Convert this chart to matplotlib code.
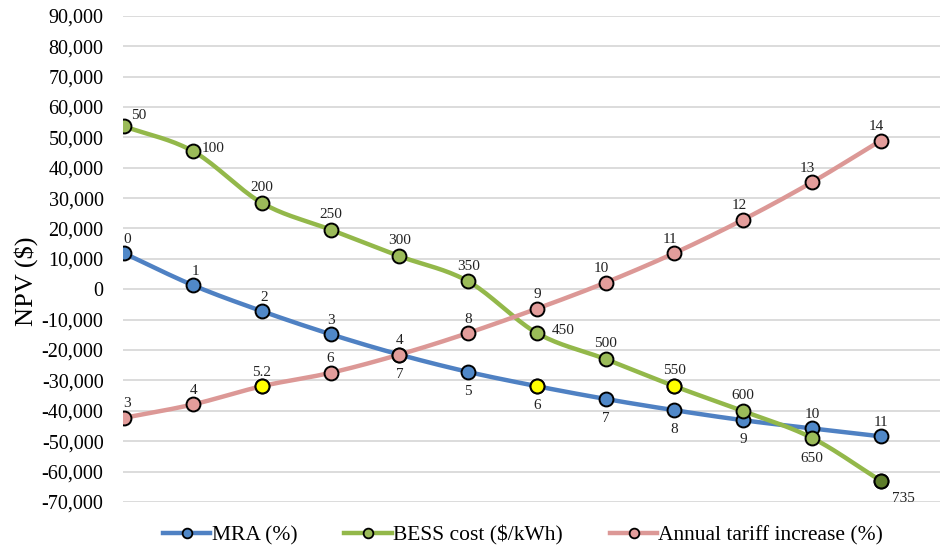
import matplotlib.pyplot as plt
import numpy as np
from matplotlib.ticker import FuncFormatter

positions = list(range(12))

mra_npv = [11800, 1300, -7200, -14800, -21500, -27200, -31900, -36100, -39800, -43100, -45800, -48400]
mra_labels = ["0", "1", "2", "3", "4", "5", "6", "7", "8", "9", "10", "11"]

bess_npv = [53600, 45400, 28400, 19600, 10900, 2600, -14400, -23000, -31900, -40100, -48900, -63000]
bess_labels = ["50", "100", "200", "250", "300", "350", "450", "500", "550", "600", "650", "735"]

tariff_npv = [-42300, -37900, -31900, -27500, -21500, -14400, -6400, 2200, 11900, 22900, 35200, 48900]
tariff_labels = ["3", "4", "5.2", "6", "7", "8", "9", "10", "11", "12", "13", "14"]


def smooth(x, y, n=20):
    # catmull-rom style curve through every point, like a smoothed office line
    x = np.asarray(x, float)
    y = np.asarray(y, float)
    px = np.concatenate([[2 * x[0] - x[1]], x, [2 * x[-1] - x[-2]]])
    py = np.concatenate([[2 * y[0] - y[1]], y, [2 * y[-1] - y[-2]]])
    xs, ys = [], []
    t = np.linspace(0, 1, n)
    for i in range(1, len(px) - 2):
        for p, out in ((px, xs), (py, ys)):
            p0, p1, p2, p3 = p[i - 1], p[i], p[i + 1], p[i + 2]
            c1 = p1 + (p2 - p0) / 6
            c2 = p2 - (p3 - p1) / 6
            out.extend((1 - t) ** 3 * p1 + 3 * (1 - t) ** 2 * t * c1 + 3 * (1 - t) * t ** 2 * c2 + t ** 3 * p2)
    return xs, ys


plt.rcParams['font.family'] = ['Liberation Serif', 'DejaVu Serif']

fig = plt.figure(figsize=(9.42, 5.45), dpi=100)
ax = fig.add_axes([0.1306, 0.079, 0.867, 0.892])

blue, green, pink = '#4f81c3', '#93b84a', '#dc9896'
blue_fill, green_fill, pink_fill = '#5088c8', '#9bbb59', '#e39d9b'

series = [
    (mra_npv, blue, blue_fill, 'MRA (%)'),
    (bess_npv, green, green_fill, 'BESS cost ($/kWh)'),
    (tariff_npv, pink, pink_fill, 'Annual tariff increase (%)'),
]

handles = []
for vals, lc, fc, name in series:
    sx, sy = smooth(positions, vals)
    ax.plot(sx, sy, color=lc, lw=3.2, zorder=2, solid_capstyle='round')
    ax.plot(positions, vals, ls='none', marker='o', ms=10, mfc=fc, mec='black', mew=1.4, zorder=3)
    h, = ax.plot([], [], color=lc, lw=3.2, marker='o', ms=7, mfc=fc, mec='black', mew=1.3, label=name)
    handles.append(h)

# highlighted points
ax.plot(positions[6], mra_npv[6], 'o', ms=10, mfc='#ffff00', mec='black', mew=1.4, zorder=4)
ax.plot(positions[8], bess_npv[8], 'o', ms=10, mfc='#ffff00', mec='black', mew=1.4, zorder=4)
ax.plot(positions[2], tariff_npv[2], 'o', ms=10, mfc='#ffff00', mec='black', mew=1.4, zorder=4)
ax.plot(positions[11], bess_npv[11], 'o', ms=10, mfc='#5e7d2b', mec='black', mew=1.4, zorder=4)

lab = dict(fontsize=11, color='#222222', zorder=5)

# MRA labels: above at the ends, below in the middle
mra_off = [(2, 10), (2, 10), (2, 10), (0, 10), (0, 10), (0, -14), (0, -14), (0, -14), (0, -14), (0, -14), (0, 10), (0, 10)]
for x, y, s, (dx, dy) in zip(positions, mra_npv, mra_labels, mra_off):
    ax.annotate(s, (x, y), xytext=(dx, dy), textcoords='offset points', ha='center', va='center', **lab)

bess_off = [(11, 8), (12, 2), (0, 11), (0, 11), (0, 11), (0, 11), (17, 2), (0, 11), (0, 11), (0, 11), (0, -15), (14, -13)]
for x, y, s, (dx, dy) in zip(positions, bess_npv, bess_labels, bess_off):
    ha = 'left' if dx > 2 else 'center'
    ax.annotate(s, (x, y), xytext=(dx if ha == 'center' else dx - 6, dy), textcoords='offset points',
                ha=ha, va='center', **lab)

tariff_off = [(2, 10), (0, 10), (0, 10), (0, 10), (0, -14), (0, 10), (0, 10), (0, 10), (0, 10), (0, 10), (0, 10), (0, 10)]
for x, y, s, (dx, dy) in zip(positions, tariff_npv, tariff_labels, tariff_off):
    ax.annotate(s, (x, y), xytext=(dx - 3 if dy > 0 and x >= 7 else dx, dy), textcoords='offset points',
                ha='center', va='center', **lab)

ax.set_xlim(-0.02, 11.86)
ax.set_ylim(-70000, 90000)
ax.set_yticks(np.arange(-70000, 90001, 10000))
ax.yaxis.set_major_formatter(FuncFormatter(lambda v, p: f"{int(v):,}"))
ax.set_xticks([])
ax.grid(axis='y', color='#d9d9d9', lw=1.3)
ax.set_axisbelow(True)
for sp in ax.spines.values():
    sp.set_visible(False)
ax.tick_params(axis='y', length=0, labelsize=14.5, pad=14)
ax.set_ylabel('NPV ($)', fontsize=19)
ax.yaxis.set_label_coords(-0.104, 0.455)

ax.legend(handles=handles, loc='center', bbox_to_anchor=(0.49, -0.068), ncol=3, frameon=False,
          fontsize=15.5, handlelength=2.2, columnspacing=2.2, handletextpad=0.05, borderaxespad=0)

fig.savefig('out.png', dpi=100)
